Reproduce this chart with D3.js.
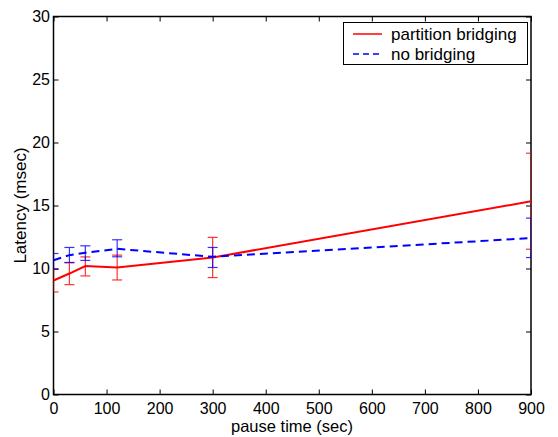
<!DOCTYPE html>
<html><head><meta charset="utf-8">
<script src="https://cdn.jsdelivr.net/npm/d3@7"></script>
<style>body{margin:0;background:#fff}text{font-family:"Liberation Sans",Arial,sans-serif}</style>
</head><body><svg id="c" width="558" height="437"></svg>
<script>
const pauseTimes = [0, 30, 60, 120, 300, 900];
const bridgingMean = [9.05, 9.6, 10.2, 10.08, 10.87, 15.33];
const bridgingLow  = [8.14, 8.72, 9.41, 9.09, 9.28, 11.53];
const bridgingHigh = [9.95, 10.45, 10.92, 11.06, 12.47, 19.15];
const noBridgingMean = [10.66, 11.06, 11.25, 11.56, 10.93, 12.41];
const noBridgingLow  = [9.94, 10.48, 10.64, 10.93, 10.08, 10.87];
const noBridgingHigh = [11.19, 11.67, 11.8, 12.28, 11.67, 14.0];
const xTicks = [0,100,200,300,400,500,600,700,800,900];
const yTicks = [0,5,10,15,20,25,30];
const seriesNames = ["partition bridging", "no bridging"];

const FS = 17, TFS = 16;
const svg = d3.select("#c");
const L=53.5, R=531, T=16.5, B=394.5;
const x = d3.scaleLinear().domain([0,900]).range([L,R]);
const y = d3.scaleLinear().domain([0,30]).range([B,T]);

const series = [
  {name:seriesNames[0], mean:bridgingMean, lo:bridgingLow, hi:bridgingHigh, color:"#ff0000", dash:null},
  {name:seriesNames[1], mean:noBridgingMean, lo:noBridgingLow, hi:noBridgingHigh, color:"#0000ff", dash:"8,5"}
];

// axes
const gx = svg.append("g").attr("transform",`translate(0,${B})`)
  .call(d3.axisBottom(x).tickValues(xTicks).tickSizeInner(-5).tickSizeOuter(0));
const gxt = svg.append("g").attr("transform",`translate(0,${T})`)
  .call(d3.axisTop(x).tickValues(xTicks).tickSizeInner(-5).tickSizeOuter(0).tickFormat(""));
const gy = svg.append("g").attr("transform",`translate(${L},0)`)
  .call(d3.axisLeft(y).tickValues(yTicks).tickSizeInner(-5).tickSizeOuter(0));
const gyr = svg.append("g").attr("transform",`translate(${R},0)`)
  .call(d3.axisRight(y).tickValues(yTicks).tickSizeInner(-5).tickSizeOuter(0).tickFormat(""));
[gx,gxt,gy,gyr].forEach(g=>{
  g.select(".domain").remove();
  g.selectAll("line").attr("stroke","#000").attr("stroke-width",1);
  g.selectAll("text").attr("font-size",TFS).attr("fill","#000").attr("font-family","Liberation Sans, Arial, sans-serif");
});
gx.selectAll("text").attr("y",7).attr("dy","0.8em");
gy.selectAll("text").attr("x",-3.5);
svg.append("rect").attr("x",L).attr("y",T).attr("width",R-L).attr("height",B-T)
  .attr("fill","none").attr("stroke","#000").attr("stroke-width",1.5);

svg.append("defs").append("clipPath").attr("id","cp")
  .append("rect").attr("x",L).attr("y",T-10).attr("width",R-L).attr("height",B-T+20);

const plot = svg.append("g").attr("clip-path","url(#cp)");
// error bars
series.forEach(s=>{
  const g = plot.append("g").attr("stroke",s.color).attr("stroke-width",1.2).attr("opacity",0.8);
  pauseTimes.forEach((t,i)=>{
    const cx=x(t);
    g.append("line").attr("x1",cx).attr("x2",cx).attr("y1",y(s.lo[i])).attr("y2",y(s.hi[i]));
    g.append("line").attr("x1",cx-5).attr("x2",cx+5).attr("y1",y(s.lo[i])).attr("y2",y(s.lo[i]));
    g.append("line").attr("x1",cx-5).attr("x2",cx+5).attr("y1",y(s.hi[i])).attr("y2",y(s.hi[i]));
  });
});
// lines
series.forEach(s=>{
  const line = d3.line().x((d,i)=>x(pauseTimes[i])).y(d=>y(d));
  plot.append("path").datum(s.mean).attr("d",line).attr("fill","none")
    .attr("stroke",s.color).attr("stroke-width",2).attr("stroke-dasharray",s.dash);
});

// labels
svg.append("text").attr("x",292).attr("y",432).attr("text-anchor","middle")
  .attr("font-size",16.5).text("pause time (sec)");
svg.append("text").attr("transform",`translate(26,${(T+B)/2}) rotate(-90)`).attr("text-anchor","middle")
  .attr("font-size",FS).text("Latency (msec)");

// legend
const lg = svg.append("g");
lg.append("rect").attr("x",343.5).attr("y",22.5).attr("width",184).attr("height",42)
  .attr("fill","#fff").attr("stroke","#000").attr("stroke-width",1);
series.forEach((s,i)=>{
  const yy = 34 + i*20;
  lg.append("line").attr("x1",353).attr("x2",382).attr("y1",yy).attr("y2",yy)
    .attr("stroke",s.color).attr("stroke-width",1.5).attr("stroke-dasharray",s.dash?"6,4":null);
  lg.append("text").attr("x",391).attr("y",yy+6).attr("font-size",FS).text(s.name);
});
</script></body></html>
